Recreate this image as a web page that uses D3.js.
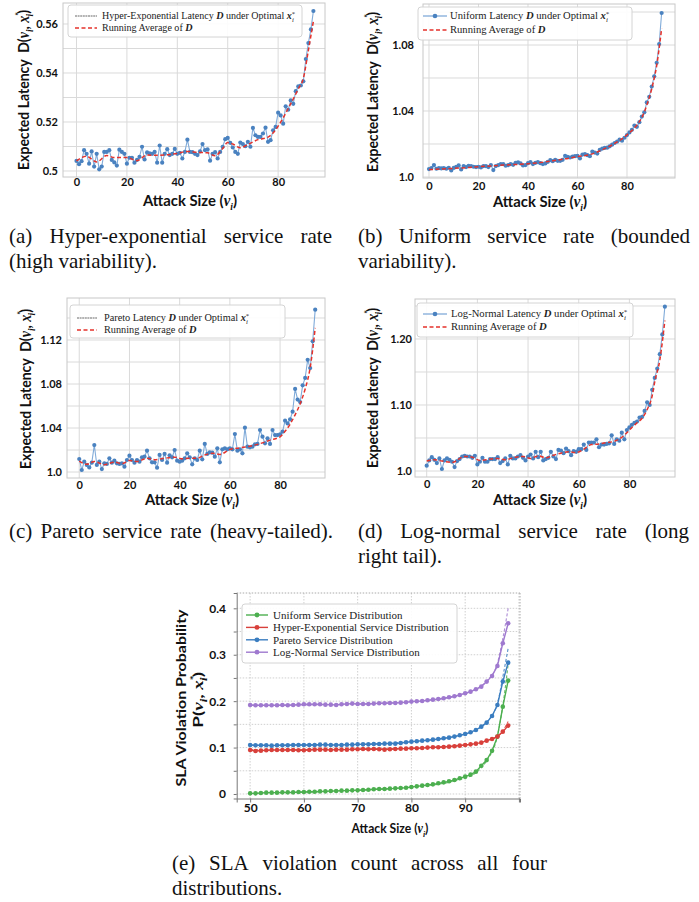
<!DOCTYPE html>
<html>
<head>
<meta charset="utf-8">
<script src="https://cdn.jsdelivr.net/npm/d3@7"></script>
<style>
  body { margin: 0; background: #fff; }
  svg { display: block; }
</style>
</head>
<body>
<svg id="fig" width="699" height="902"></svg>
<script>
// attack sizes used in the four latency panels
var attack = d3.range(0, 95);

// (a) hyper-exponential latency D under optimal x*
var latHyper = [0.5041,0.5028,0.5040,0.5085,0.5070,0.5030,0.5080,0.5018,0.5070,0.5007,
  0.5018,0.5078,0.5078,0.5085,0.5045,0.5035,0.5022,0.5087,0.5078,0.5070,
  0.5030,0.5054,0.5054,0.5034,0.5045,0.5058,0.5099,0.5047,0.5076,0.5072,
  0.5070,0.5078,0.5034,0.5104,0.5034,0.5070,0.5089,0.5065,0.5070,0.5090,
  0.5070,0.5074,0.5051,0.5078,0.5128,0.5078,0.5077,0.5070,0.5065,0.5080,
  0.5110,0.5085,0.5088,0.5042,0.5070,0.5077,0.5051,0.5078,0.5099,0.5130,
  0.5135,0.5115,0.5096,0.5078,0.5070,0.5116,0.5110,0.5101,0.5119,0.5099,
  0.5176,0.5146,0.5139,0.5139,0.5153,0.5177,0.5119,0.5126,0.5166,0.5180,
  0.5238,0.5227,0.5193,0.5264,0.5250,0.5288,0.5274,0.5326,0.5345,0.5349,
  0.5366,0.5457,0.5522,0.5578,0.5653];
var avgHyperX = [0,4,8,12,15,20,24,28,32,36,40,44,48,52,55,58,60,62,65,68,72,76,78,80,84,88,90,92,94];
var avgHyper = [0.5041,0.5060,0.5037,0.5063,0.5055,0.5055,0.5042,0.5065,0.5064,0.5066,0.5072,0.5080,0.5076,0.5074,
  0.5062,0.5092,0.5116,0.5110,0.5095,0.5108,0.5128,0.5138,0.5155,0.5183,0.5255,0.5335,0.5378,0.5492,0.5612];

// (b) uniform
var latUniform = [1.0048,1.0054,1.0072,1.0050,1.0054,1.0052,1.0054,1.0050,1.0056,1.0040,
  1.0055,1.0062,1.0070,1.0046,1.0066,1.0060,1.0068,1.0066,1.0062,1.0060,
  1.0062,1.0058,1.0066,1.0066,1.0060,1.0072,1.0042,1.0066,1.0072,1.0078,
  1.0078,1.0068,1.0072,1.0078,1.0074,1.0086,1.0088,1.0082,1.0070,1.0072,
  1.0084,1.0090,1.0078,1.0086,1.0090,1.0084,1.0078,1.0082,1.0092,1.0102,
  1.0096,1.0104,1.0098,1.0098,1.0104,1.0128,1.0122,1.0118,1.0124,1.0126,
  1.0128,1.0112,1.0136,1.0138,1.0132,1.0126,1.0154,1.0148,1.0142,1.0164,
  1.0172,1.0176,1.0178,1.0186,1.0196,1.0206,1.0214,1.0226,1.0220,1.0238,
  1.0254,1.0270,1.0286,1.0312,1.0304,1.0332,1.0366,1.0392,1.0452,1.0486,
  1.0548,1.0610,1.0692,1.0806,1.0994];
var avgUniformX = [0,10,20,30,40,50,55,60,65,70,75,80,84,86,88,90,92,94];
var avgUniform = [1.0045,1.0052,1.0062,1.0072,1.0080,1.0098,1.0110,1.0124,1.0136,1.0165,1.0203,1.0255,1.0315,1.0360,1.0435,1.0535,1.0675,1.0900];

// (c) pareto
var latPareto = [1.0118,1.0018,1.0094,1.0064,1.0042,1.0085,1.0245,1.0064,1.0094,1.0027,
  1.0079,1.0073,1.0124,1.0085,1.0103,1.0079,1.0073,1.0079,1.0048,1.0109,
  1.0148,1.0109,1.0085,1.0109,1.0094,1.0133,1.0139,1.0194,1.0124,1.0088,
  1.0088,1.0039,1.0155,1.0109,1.0164,1.0085,1.0152,1.0133,1.0200,1.0103,
  1.0094,1.0103,1.0124,1.0170,1.0133,1.0070,1.0124,1.0109,1.0194,1.0115,
  1.0255,1.0164,1.0179,1.0176,1.0139,1.0215,1.0088,1.0206,1.0215,1.0206,
  1.0215,1.0206,1.0345,1.0194,1.0206,1.0170,1.0403,1.0230,1.0224,1.0230,
  1.0252,1.0255,1.0382,1.0321,1.0261,1.0306,1.0255,1.0382,1.0336,1.0336,
  1.0342,1.0367,1.0467,1.0442,1.0479,1.0548,1.0755,1.0658,1.0636,1.0788,
  1.0855,1.1020,1.0945,1.1188,1.1476];
var avgParetoX = [0,3,6,10,14,17,20,23,27,30,34,38,41,44,47,50,53,56,60,64,68,72,76,80,82,84,86,88,90,92,94];
var avgPareto = [1.0100,1.0070,1.0095,1.0067,1.0090,1.0076,1.0105,1.0095,1.0125,1.0112,1.0125,1.0135,1.0120,1.0125,1.0125,
  1.0155,1.0170,1.0160,1.0205,1.0220,1.0235,1.0258,1.0290,1.0320,1.0370,1.0435,1.0520,1.0620,1.0755,1.0950,1.1310];

// (d) log-normal
var latLogn = [1.008,1.016,1.021,1.017,1.012,1.019,1.003,1.016,1.019,1.017,
  1.014,1.006,1.015,1.018,1.022,1.023,1.022,1.022,1.020,1.023,
  1.010,1.014,1.020,1.014,1.014,1.018,1.018,1.018,1.021,1.012,
  1.015,1.019,1.010,1.023,1.019,1.019,1.022,1.024,1.020,1.016,
  1.022,1.025,1.019,1.029,1.021,1.029,1.016,1.018,1.020,1.029,
  1.022,1.018,1.032,1.031,1.027,1.034,1.030,1.024,1.030,1.029,
  1.033,1.033,1.040,1.032,1.043,1.043,1.043,1.048,1.036,1.040,
  1.040,1.041,1.042,1.054,1.041,1.048,1.046,1.058,1.048,1.062,
  1.066,1.070,1.073,1.075,1.081,1.082,1.091,1.104,1.100,1.123,
  1.141,1.155,1.177,1.207,1.249];
var avgLognX = [0,3,6,10,15,18,21,25,28,31,35,38,41,44,47,50,53,56,59,62,65,68,71,74,77,79,81,83,85,87,89,90,92,94];
var avgLogn = [1.015,1.017,1.015,1.013,1.022,1.021,1.016,1.018,1.019,1.017,1.021,1.022,1.019,1.023,1.020,1.024,1.027,
  1.029,1.028,1.033,1.040,1.041,1.043,1.045,1.051,1.058,1.066,1.073,1.080,1.093,1.114,1.135,1.168,1.228];

// tick values and their printed labels
var xTicksLat = [0, 20, 40, 60, 80];
var yTicksHyper = [0.50, 0.52, 0.54, 0.56], yLabHyper = ['0.5', '0.52', '0.54', '0.56'];
var yGridHyper = [0.50, 0.51, 0.52, 0.53, 0.54, 0.55, 0.56];
var yTicksUniform = [1.0, 1.04, 1.08], yLabUniform = ['1.0', '1.04', '1.08'];
var yGridUniform = [1.0, 1.02, 1.04, 1.06, 1.08, 1.10];
var yTicksPareto = [1.0, 1.04, 1.08, 1.12], yLabPareto = ['1.0', '1.04', '1.08', '1.12'];
var yGridPareto = [1.0, 1.02, 1.04, 1.06, 1.08, 1.10, 1.12, 1.14];
var yTicksLogn = [1.0, 1.1, 1.2], yLabLogn = ['1.0', '1.10', '1.20'];
var yGridLogn = [1.0, 1.05, 1.10, 1.15, 1.20, 1.25];

// (e) SLA violation probability, attack size 50..98
var slaX = d3.range(50, 99);
var slaUniform = [0.0014,0.0014,0.0022,0.0029,0.0029,0.0029,0.0036,0.0036,0.0036,0.0043,
  0.0043,0.0050,0.0050,0.0057,0.0057,0.0065,0.0065,0.0072,0.0072,0.0079,
  0.0079,0.0086,0.0093,0.0101,0.0108,0.0108,0.0115,0.0122,0.0129,0.0136,
  0.0151,0.0165,0.0180,0.0194,0.0208,0.0230,0.0251,0.0273,0.0302,0.0338,
  0.0374,0.0417,0.0481,0.0610,0.0730,0.0930,0.1236,0.1882,0.2443];
var slaHyper = [0.0948,0.0927,0.0934,0.0941,0.0948,0.0948,0.0948,0.0948,0.0948,0.0941,
  0.0941,0.0948,0.0955,0.0955,0.0955,0.0948,0.0955,0.0955,0.0955,0.0963,
  0.0963,0.0970,0.0963,0.0970,0.0963,0.0955,0.0963,0.0970,0.0977,0.0977,
  0.0984,0.0984,0.0991,0.0999,0.1006,0.1006,0.1013,0.1020,0.1027,0.1042,
  0.1056,0.1070,0.1085,0.1106,0.1149,0.1185,0.1236,0.1343,0.1473];
var slaPareto = [0.1056,0.1049,0.1049,0.1049,0.1042,0.1049,0.1049,0.1049,0.1056,0.1056,
  0.1056,0.1056,0.1056,0.1063,0.1063,0.1056,0.1056,0.1056,0.1063,0.1063,
  0.1070,0.1070,0.1070,0.1078,0.1078,0.1085,0.1085,0.1085,0.1099,0.1114,
  0.1128,0.1135,0.1149,0.1157,0.1171,0.1185,0.1200,0.1214,0.1236,0.1264,
  0.1293,0.1329,0.1379,0.1451,0.1537,0.1681,0.1918,0.2421,0.2830];
var slaLogn = [0.1918,0.1911,0.1911,0.1911,0.1911,0.1911,0.1918,0.1911,0.1918,0.1925,
  0.1932,0.1932,0.1932,0.1932,0.1925,0.1925,0.1918,0.1932,0.1940,0.1947,
  0.1940,0.1940,0.1940,0.1947,0.1954,0.1954,0.1961,0.1961,0.1968,0.1976,
  0.1990,0.1997,0.2004,0.2019,0.2033,0.2047,0.2062,0.2083,0.2105,0.2134,
  0.2170,0.2205,0.2256,0.2313,0.2421,0.2543,0.2759,0.3247,0.3678];
// dashed fitted curves
var fitX = [50, 70, 80, 88, 92, 94, 96, 97, 98];
var fitUniform = [0.001, 0.008, 0.015, 0.028, 0.046, 0.072, 0.125, 0.190, 0.280];
var fitHyper = [0.095, 0.097, 0.0984, 0.104, 0.109, 0.115, 0.124, 0.136, 0.156];
var fitPareto = [0.105, 0.107, 0.113, 0.124, 0.138, 0.155, 0.195, 0.252, 0.314];
var fitLogn = [0.191, 0.194, 0.199, 0.210, 0.226, 0.243, 0.282, 0.335, 0.400];
var xTicksSla = [50, 60, 70, 80, 90];
var yTicksSla = [0, 0.1, 0.2, 0.3, 0.4], yLabSla = ['0', '0.1', '0.2', '0.3', '0.4'];
var yMinorSla = [0, 0.05, 0.1, 0.15, 0.2, 0.25, 0.3, 0.35, 0.4];

var captions = [
  {lines: ['(a) Hyper-exponential service rate', '(high variability).'], x0: 9, x1: 332, y: 243},
  {lines: ['(b) Uniform service rate (bounded', 'variability).'], x0: 358, x1: 690, y: 243},
  {lines: ['(c) Pareto service rate (heavy-tailed).'], x0: 9, x1: 333, y: 538},
  {lines: ['(d) Log-normal service rate (long', 'right tail).'], x0: 358, x1: 689, y: 538},
  {lines: ['(e) SLA violation count across all four', 'distributions.'], x0: 172, x1: 547, y: 870}
];

var SANS = "Lato, 'Open Sans', sans-serif";
var SERIF = "'Liberation Serif', 'DejaVu Serif', serif";
var svg = d3.select('#fig');

function addParts(text, parts) {
  parts.forEach(function (p) {
    var ts = text.append('tspan').text(p.t);
    if (p.f) ts.attr('font-family', p.f);
    if (p.s) ts.attr('font-style', p.s);
    if (p.w) ts.attr('font-weight', p.w);
    if (p.size) ts.attr('font-size', p.size);
    if (p.dx) ts.attr('dx', p.dx);
    if (p.dy) ts.attr('dy', p.dy);
  });
  return text;
}

// label squeezed horizontally to the width it has in the figure
function axisLabel(cx, cy, rotate, width, size, parts) {
  var g = svg.append('g');
  var t = g.append('text').attr('text-anchor', 'middle')
    .attr('font-family', SANS).attr('font-weight', 'bold').attr('font-size', size)
    .attr('fill', '#111').attr('y', rotate ? size * 0.35 : 0);
  addParts(t, parts);
  var k = width / t.node().getBBox().width;
  g.attr('transform', 'translate(' + cx + ',' + cy + ')' + (rotate ? ' rotate(-90)' : '') + ' scale(' + k + ',1)');
}

function latencyParts(fs) {
  return [{t: 'Expected Latency\u00a0\u00a0D('},
    {t: 'v', f: SERIF, s: 'italic'},
    {t: 'i', f: SERIF, s: 'italic', size: fs * 0.65, dy: fs * 0.25},
    {t: ',\u00a0', dy: -fs * 0.25},
    {t: 'x', f: SERIF, s: 'italic'},
    {t: '*', size: fs * 0.6, dy: -fs * 0.4},
    {t: 'i', f: SERIF, s: 'italic', size: fs * 0.65, dx: -fs * 0.3, dy: fs * 0.65},
    {t: ')', dy: -fs * 0.25}];
}
function attackParts(fs) {
  return [{t: 'Attack Size ('},
    {t: 'v', f: SERIF, s: 'italic'},
    {t: 'i', f: SERIF, s: 'italic', size: fs * 0.65, dy: fs * 0.25},
    {t: ')', dy: -fs * 0.25}];
}

var panels = [
  {lat: latHyper, avgX: avgHyperX, avg: avgHyper, yTicks: yTicksHyper, yLab: yLabHyper, yGrid: yGridHyper,
   name: 'Hyper-Exponential', tinyHandle: true,
   frame: [63, 325, 3, 177], xDom: [-5.36, 98.6], yDom: [0.49755, 0.56857],
   yLabelX: 23, yLabelY: 90, xLabelX: 190, xLabelY: 206, tickRight: 58, xTickY: 187,
   leg: {x: 68, y: 5, w: 234, h: 32, r1: 16, r2: 28, hx: [75, 97], tx: 102, tw: 194}},
  {lat: latUniform, avgX: avgUniformX, avg: avgUniform, yTicks: yTicksUniform, yLab: yLabUniform, yGrid: yGridUniform,
   name: 'Uniform', tinyHandle: false,
   frame: [423, 675, 4, 178], xDom: [-2.42, 99.4], yDom: [0.99939, 1.10485],
   yLabelX: 372, yLabelY: 92, xLabelX: 540, xLabelY: 207, tickRight: 414, xTickY: 191,
   leg: {x: 418, y: 7, w: 214, h: 33, r1: 16, r2: 30, hx: [423, 447], tx: 450, tw: 160}},
  {lat: latPareto, avgX: avgParetoX, avg: avgPareto, yTicks: yTicksPareto, yLab: yLabPareto, yGrid: yGridPareto,
   name: 'Pareto', tinyHandle: true,
   frame: [67, 325, 298, 478], xDom: [-4.88, 97.9], yDom: [0.99455, 1.15818],
   yLabelX: 25, yLabelY: 389, xLabelX: 192, xLabelY: 505, tickRight: 62, xTickY: 490,
   leg: {x: 70, y: 305, w: 215, h: 33, r1: 318, r2: 330, hx: [77, 97], tx: 104, tw: 146}},
  {lat: latLogn, avgX: avgLognX, avg: avgLogn, yTicks: yTicksLogn, yLab: yLabLogn, yGrid: yGridLogn,
   name: 'Log-Normal', tinyHandle: false,
   frame: [415, 675, 299, 477], xDom: [-4.62, 98.0], yDom: [0.99091, 1.2606],
   yLabelX: 372, yLabelY: 388, xLabelX: 540, xLabelY: 505, tickRight: 412, xTickY: 489,
   leg: {x: 417, y: 303, w: 216, h: 34, r1: 314, r2: 327, hx: [423, 447], tx: 451, tw: 177}}
];

var BLUE_LINE = '#80abd9', BLUE_DOT = '#4a82c0', RED = '#e5322b';

panels.forEach(function (p) {
  var f = p.frame;
  var x = d3.scaleLinear().domain(p.xDom).range([f[0], f[1]]);
  var y = d3.scaleLinear().domain(p.yDom).range([f[3], f[2]]);
  var g = svg.append('g');

  // grid
  g.selectAll('.hg').data(p.yGrid).join('line')
    .attr('x1', f[0]).attr('x2', f[1]).attr('y1', d => y(d)).attr('y2', d => y(d))
    .attr('stroke', '#dadada').attr('stroke-width', 1);
  g.selectAll('.vg').data(xTicksLat).join('line')
    .attr('x1', d => x(d)).attr('x2', d => x(d)).attr('y1', f[2]).attr('y2', f[3])
    .attr('stroke', '#dadada').attr('stroke-width', 1);
  g.append('rect').attr('x', f[0]).attr('y', f[2]).attr('width', f[1] - f[0]).attr('height', f[3] - f[2])
    .attr('fill', 'none').attr('stroke', '#c8c8c8').attr('stroke-width', 1);

  // tick labels through d3 axes
  var ya = d3.axisLeft(y).tickValues(p.yTicks).tickFormat((d, i) => p.yLab[i]).tickSize(0).tickPadding(0);
  g.append('g').attr('transform', 'translate(' + p.tickRight + ',0)').call(ya)
    .call(s => s.select('.domain').remove())
    .selectAll('text').attr('font-family', SANS).attr('font-weight', 'bold').attr('font-size', 11).attr('fill', '#111');
  var xa = d3.axisBottom(x).tickValues(xTicksLat).tickFormat(d3.format('d')).tickSize(0).tickPadding(0);
  g.append('g').attr('transform', 'translate(0,' + (p.xTickY - 9) + ')').call(xa)
    .call(s => s.select('.domain').remove())
    .selectAll('text').attr('font-family', SANS).attr('font-weight', 'bold').attr('font-size', 11).attr('fill', '#111');

  // latency series
  var line = d3.line().x((d, i) => x(attack[i])).y(d => y(d));
  g.append('path').attr('d', line(p.lat)).attr('fill', 'none').attr('stroke', BLUE_LINE).attr('stroke-width', 1.1);
  g.selectAll('.dot').data(p.lat).join('circle')
    .attr('cx', (d, i) => x(attack[i])).attr('cy', d => y(d)).attr('r', 2.1).attr('fill', BLUE_DOT);
  var avgLine = d3.line().x((d, i) => x(p.avgX[i])).y(d => y(d)).curve(d3.curveMonotoneX);
  g.append('path').attr('d', avgLine(p.avg)).attr('fill', 'none').attr('stroke', RED)
    .attr('stroke-width', 1.5).attr('stroke-dasharray', '4,2.5');

  // legend
  var L = p.leg;
  g.append('rect').attr('x', L.x).attr('y', L.y).attr('width', L.w).attr('height', L.h).attr('rx', 3)
    .attr('fill', '#fff').attr('fill-opacity', 0.9).attr('stroke', '#d4d4d4');
  if (p.tinyHandle) {
    g.append('line').attr('x1', L.hx[0]).attr('x2', L.hx[1]).attr('y1', L.r1).attr('y2', L.r1)
      .attr('stroke', '#9a9a9a').attr('stroke-width', 1.4).attr('stroke-dasharray', '2,0.6');
  } else {
    g.append('line').attr('x1', L.hx[0]).attr('x2', L.hx[1]).attr('y1', L.r1).attr('y2', L.r1)
      .attr('stroke', BLUE_LINE).attr('stroke-width', 1.3);
    g.append('circle').attr('cx', (L.hx[0] + L.hx[1]) / 2).attr('cy', L.r1).attr('r', 2.3).attr('fill', BLUE_DOT);
  }
  g.append('line').attr('x1', L.hx[0]).attr('x2', L.hx[1]).attr('y1', L.r2).attr('y2', L.r2)
    .attr('stroke', RED).attr('stroke-width', 1.5).attr('stroke-dasharray', '4,2.5');
  var lg = g.append('g');
  var t1 = lg.append('text').attr('x', 0).attr('y', L.r1 + 3.5).attr('font-family', SERIF).attr('font-size', 10.5).attr('fill', '#222');
  addParts(t1, [{t: p.name + ' Latency\u00a0'}, {t: 'D', s: 'italic', w: 'bold'}, {t: '\u00a0under Optimal\u00a0'},
    {t: 'x', s: 'italic', w: 'bold'}, {t: '*', size: 7, dy: -3.5}, {t: 'i', size: 7, s: 'italic', dx: -3.2, dy: 6.5}]);
  var t2 = lg.append('text').attr('x', 0).attr('y', L.r2 + 3.5).attr('font-family', SERIF).attr('font-size', 10.5).attr('fill', '#222');
  addParts(t2, [{t: 'Running Average of\u00a0'}, {t: 'D', s: 'italic', w: 'bold'}]);
  var k = Math.min(1.05, L.tw / t1.node().getBBox().width);
  lg.attr('transform', 'translate(' + L.tx + ',0) scale(' + k + ',1)');

  // axis titles
  axisLabel(p.yLabelX, p.yLabelY, true, 160, 16, latencyParts(16));
  axisLabel(p.xLabelX, p.xLabelY, false, 95, 16, attackParts(16));
});

// ---- (e) SLA violation probability ----
(function () {
  var f = [236.7, 520, 593, 798.5];
  var x = d3.scaleLinear().domain([47.5, 100.2]).range([f[0], f[1]]);
  var y = d3.scaleLinear().domain([-0.0097, 0.433]).range([f[3], f[2]]);
  var g = svg.append('g');

  g.selectAll('.hg').data(yMinorSla).join('line')
    .attr('x1', f[0]).attr('x2', f[1]).attr('y1', d => y(d)).attr('y2', d => y(d))
    .attr('stroke', '#c4c4c4').attr('stroke-width', 0.8).attr('stroke-dasharray', '1.5,1.5');
  g.selectAll('.vg').data(xTicksSla.concat([100])).join('line')
    .attr('x1', d => x(d)).attr('x2', d => x(d)).attr('y1', f[2]).attr('y2', f[3])
    .attr('stroke', '#c4c4c4').attr('stroke-width', 0.8).attr('stroke-dasharray', '1.5,1.5');
  g.append('line').attr('x1', f[1]).attr('x2', f[1]).attr('y1', f[2]).attr('y2', f[3])
    .attr('stroke', '#aaa').attr('stroke-dasharray', '1.5,1.5');
  g.append('line').attr('x1', f[0]).attr('x2', f[1]).attr('y1', f[2]).attr('y2', f[2])
    .attr('stroke', '#aaa').attr('stroke-dasharray', '1.5,1.5');

  // spines with short ticks
  g.append('g').attr('transform', 'translate(' + f[0] + ',0)')
    .call(d3.axisLeft(y).tickValues(yMinorSla).tickSize(3).tickFormat(''))
    .call(s => s.selectAll('path,line').attr('stroke', '#777'));
  g.append('g').attr('transform', 'translate(0,' + f[3] + ')')
    .call(d3.axisBottom(x).tickValues(xTicksSla.concat([100])).tickSize(4).tickFormat(''))
    .call(s => s.selectAll('path,line').attr('stroke', '#777'));

  g.append('g').attr('transform', 'translate(226,0)')
    .call(d3.axisLeft(y).tickValues(yTicksSla).tickFormat((d, i) => yLabSla[i]).tickSize(0).tickPadding(0))
    .call(s => s.select('.domain').remove())
    .selectAll('text').attr('font-family', SANS).attr('font-weight', 'bold').attr('font-size', 12).attr('fill', '#111');
  g.append('g').attr('transform', 'translate(0,803)')
    .call(d3.axisBottom(x).tickValues(xTicksSla).tickFormat(d3.format('d')).tickSize(0).tickPadding(0))
    .call(s => s.select('.domain').remove())
    .selectAll('text').attr('font-family', SANS).attr('font-weight', 'bold').attr('font-size', 12).attr('fill', '#111');

  var series = [
    {name: 'Uniform Service Distribution', vals: slaUniform, fit: fitUniform, color: '#4caf4f'},
    {name: 'Hyper-Exponential Service Distribution', vals: slaHyper, fit: fitHyper, color: '#d8403b'},
    {name: 'Pareto Service Distribution', vals: slaPareto, fit: fitPareto, color: '#3a7dc0'},
    {name: 'Log-Normal Service Distribution', vals: slaLogn, fit: fitLogn, color: '#9f79cf'}
  ];
  var line = d3.line().x((d, i) => x(slaX[i])).y(d => y(d));
  var fitLine = d3.line().x((d, i) => x(fitX[i])).y(d => y(d)).curve(d3.curveMonotoneX);
  series.forEach(function (s) {
    g.append('path').attr('d', fitLine(s.fit)).attr('fill', 'none').attr('stroke', s.color)
      .attr('stroke-width', 1.1).attr('stroke-dasharray', '3,2').attr('opacity', 0.85);
    g.append('path').attr('d', line(s.vals)).attr('fill', 'none').attr('stroke', s.color).attr('stroke-width', 1.4);
    g.selectAll(null).data(s.vals).join('circle')
      .attr('cx', (d, i) => x(slaX[i])).attr('cy', d => y(d)).attr('r', 2.3).attr('fill', s.color);
  });

  // legend
  g.append('rect').attr('x', 242).attr('y', 604).attr('width', 215).attr('height', 59).attr('rx', 3)
    .attr('fill', '#fff').attr('fill-opacity', 0.9).attr('stroke', '#d4d4d4');
  series.forEach(function (s, i) {
    var ry = 615 + i * 12.4;
    g.append('line').attr('x1', 246).attr('x2', 268).attr('y1', ry).attr('y2', ry).attr('stroke', s.color).attr('stroke-width', 1.4);
    g.append('circle').attr('cx', 257).attr('cy', ry).attr('r', 2.4).attr('fill', s.color);
    g.append('text').attr('x', 273).attr('y', ry + 3.8).attr('font-family', SERIF).attr('font-size', 11)
      .attr('fill', '#222').text(s.name);
  });

  axisLabel(181, 698, true, 178, 14, [{t: 'SLA Violation Probability'}]);
  axisLabel(198, 700, true, 56, 14, [{t: 'P('}, {t: 'v', f: SERIF, s: 'italic'},
    {t: 'i', f: SERIF, s: 'italic', size: 9.5, dy: 4}, {t: ',\u00a0', dy: -4}, {t: 'x', f: SERIF, s: 'italic'},
    {t: '*', size: 8.5, dy: -5.5}, {t: 'i', f: SERIF, s: 'italic', size: 9.5, dx: -4.2, dy: 9.5}, {t: ')', dy: -4}]);
  axisLabel(390, 833, false, 78, 14, attackParts(14));
})();

// ---- captions, justified like the paper ----
captions.forEach(function (c) {
  c.lines.forEach(function (str, li) {
    var words = str.split(' ');
    var g = svg.append('g').attr('font-family', SERIF).attr('font-size', 21).attr('fill', '#111');
    var nodes = words.map(w => g.append('text').attr('y', c.y + li * 25).text(w));
    var widths = nodes.map(n => n.node().getComputedTextLength());
    var last = li === c.lines.length - 1 && c.lines.length > 1;
    var gap = !last && words.length > 1 ? (c.x1 - c.x0 - d3.sum(widths)) / (words.length - 1) : 5.2;
    var xx = c.x0;
    nodes.forEach(function (n, i) { n.attr('x', xx); xx += widths[i] + gap; });
  });
});
</script>
</body>
</html>
